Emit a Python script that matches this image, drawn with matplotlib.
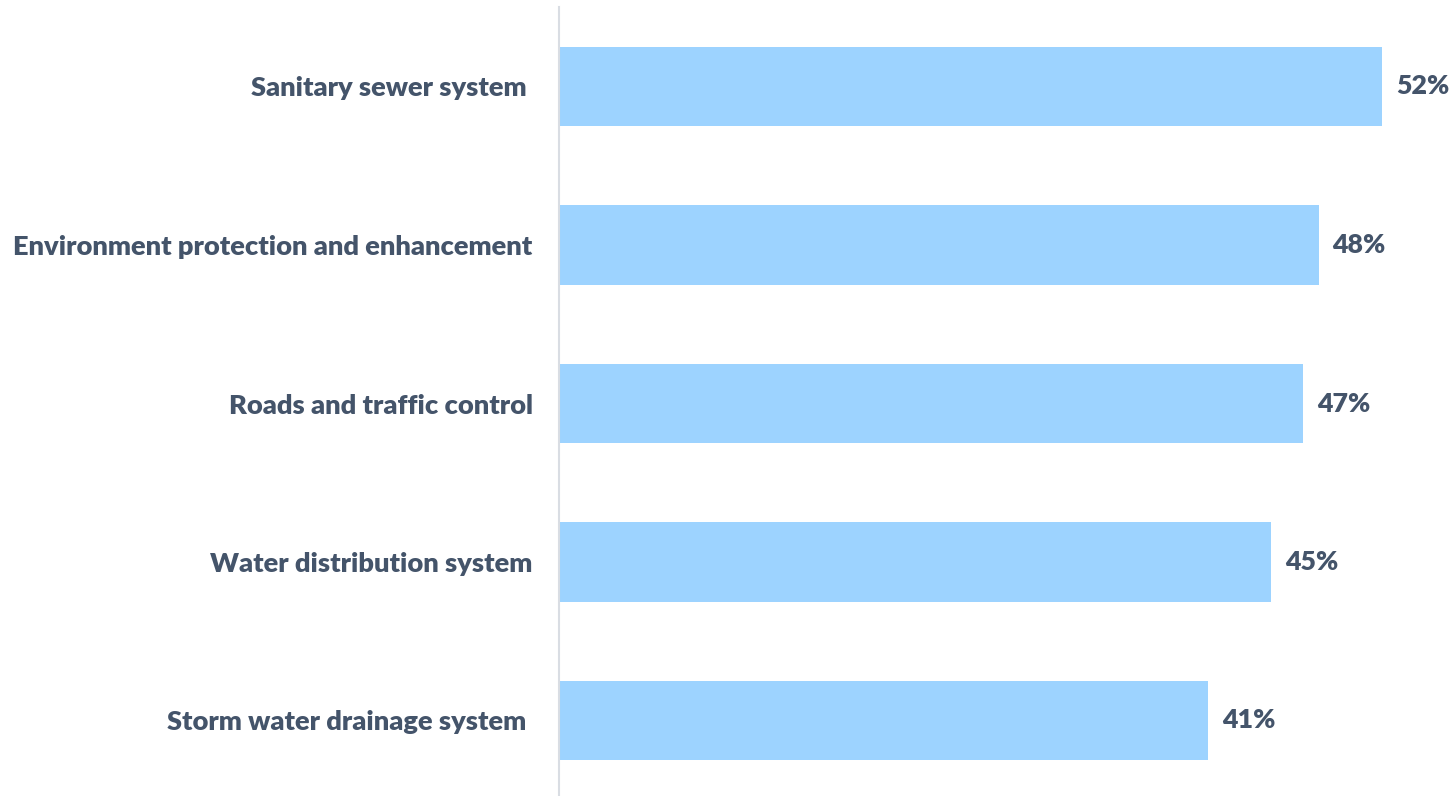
import matplotlib
matplotlib.use('Agg')
import matplotlib.pyplot as plt

categories = ['Sanitary sewer system ', 'Environment protection and enhancement',
              'Roads and traffic control', 'Water distribution system',
              'Storm water drainage system ']
values = [52, 48, 47, 45, 41]

TEXT = '#44546A'
BAR = '#9DD3FF'

W, H = 1454, 796
fig = plt.figure(figsize=(W / 100, H / 100), dpi=100)
ax = fig.add_axes([559 / W, 1 - 799.75 / H, 870.5 / W, 792.5 / H])

ypos = list(range(len(categories)))
ax.barh(ypos, values, height=0.5, color=BAR, edgecolor='none')
ax.set_xlim(0, 55)
ax.set_ylim(len(categories) - 0.5, -0.5)

ax.set_yticks(ypos)
ax.set_yticklabels(categories, fontfamily='Lato', fontweight='heavy', fontsize=19.6, color=TEXT)
ax.tick_params(axis='y', length=0, pad=19)
ax.set_xticks([])

for s in ['top', 'right', 'bottom']:
    ax.spines[s].set_visible(False)
ax.spines['left'].set_color('#D9DDE3')
ax.spines['left'].set_linewidth(1.5)

for y, v in zip(ypos, values):
    ax.annotate(f'{v}%', (v, y), xytext=(10, 0), textcoords='offset points',
                ha='left', va='center', fontfamily='Lato', fontweight='heavy',
                fontsize=19.3, color=TEXT)

fig.savefig('out.png', dpi=100)
